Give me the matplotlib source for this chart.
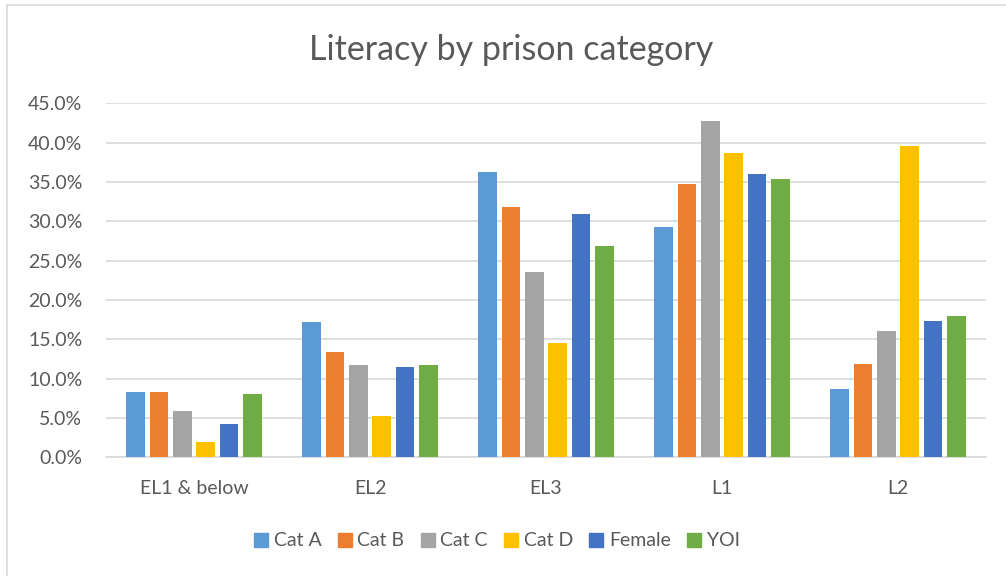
import numpy as np
import matplotlib
matplotlib.use("Agg")
import matplotlib.pyplot as plt
from matplotlib.lines import Line2D
from matplotlib.ticker import PercentFormatter

levels = ["EL1 & below", "EL2", "EL3", "L1", "L2"]
series = ["Cat A", "Cat B", "Cat C", "Cat D", "Female", "YOI"]
cat_a = [8.3, 17.2, 36.3, 29.3, 8.7]
cat_b = [8.3, 13.4, 31.8, 34.7, 11.8]
cat_c = [5.9, 11.7, 23.6, 42.7, 16.0]
cat_d = [1.9, 5.3, 14.5, 38.7, 39.6]
female = [4.2, 11.5, 30.9, 36.0, 17.3]
yoi = [8.0, 11.7, 26.8, 35.4, 18.0]
values = [cat_a, cat_b, cat_c, cat_d, female, yoi]
colors = ["#5b9bd5", "#ed7d31", "#a5a5a5", "#ffc000", "#4472c4", "#70ad47"]

TXT = "#595959"
GRID = "#d9d9d9"
plt.rcParams.update({"font.family": ["Lato", "DejaVu Sans"], "font.size": 14})

W, H = 1006, 576
fig = plt.figure(figsize=(W / 100, H / 100), dpi=100)
ax = fig.add_axes([106 / W, 1 - 457.3 / H, 880 / W, 354 / H])

x = np.arange(len(levels))
step = 0.1326
for i, (name, vals, col) in enumerate(zip(series, values, colors)):
    ax.bar(x + (i - 2.5) * step, np.array(vals) / 100, width=step * 0.8,
           color=col, label=name, zorder=3)

ax.set_xlim(-0.5, len(levels) - 0.5)
ax.set_ylim(0, 0.45)
ax.set_yticks(np.arange(0, 0.451, 0.05))
ax.yaxis.set_major_formatter(PercentFormatter(1.0, decimals=1))
ax.set_xticks(x)
ax.set_xticklabels(levels)
ax.tick_params(axis="both", length=0, colors=TXT, labelsize=14)
ax.tick_params(axis="y", pad=17)
ax.tick_params(axis="x", pad=16)
ax.grid(axis="y", color=GRID, lw=1.2, zorder=0)
for sp in ("top", "right", "left"):
    ax.spines[sp].set_visible(False)
ax.spines["bottom"].set_color(GRID)
ax.spines["bottom"].set_linewidth(1.2)

fig.text(511 / W, 1 - 50 / H, "Literacy by prison category", ha="center",
         va="center", fontsize=24.5, color=TXT)

handles = [Line2D([], [], marker="s", ls="", color=c, markersize=10) for c in colors]
fig.legend(handles, series, loc="center", bbox_to_anchor=(496 / W, 1 - 541 / H),
           ncol=6, frameon=False, fontsize=14, labelcolor=TXT, handletextpad=0.2,
           columnspacing=0.75, handlelength=0.9)

# chart frame (extends past the image at right and bottom)
fig.add_artist(Line2D([7 / W, 7 / W], [0, 1 - 4.7 / H], color=GRID, lw=1.2))
fig.add_artist(Line2D([7 / W, 1], [1 - 4.7 / H, 1 - 4.7 / H], color=GRID, lw=1.2))

fig.savefig("out.png", dpi=100)
